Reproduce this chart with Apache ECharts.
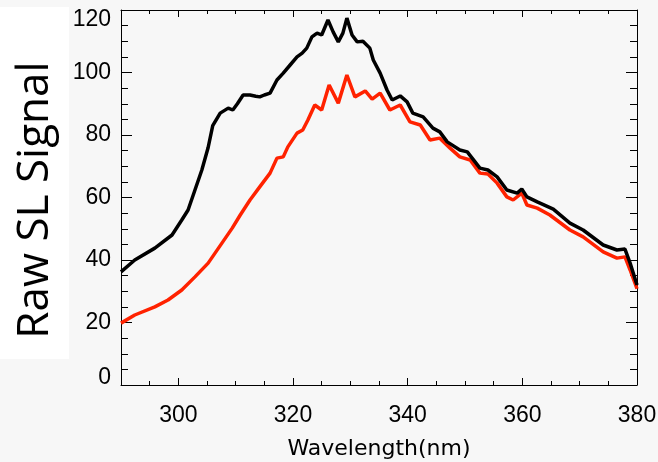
<!DOCTYPE html>
<html>
<head>
<meta charset="utf-8">
<script src="https://cdn.jsdelivr.net/npm/echarts@6/dist/echarts.min.js"></script>
<style>
html,body{margin:0;padding:0;background:#f7f7f7;}
#c{width:658px;height:462px;}
</style>
</head>
<body>
<div id="c"></div>
<script>
// Black curve (upper)
const blackWl = [290,292.4,295.9,298.9,300.6,301.7,302.9,304.1,305.2,306,307.3,308.7,309.5,310.3,311.3,312.5,313.5,314.2,315,316,317.2,318.3,319.5,320.7,321.6,322.4,323.3,324.2,325,326.1,327,327.9,328.7,329.4,330.3,331.2,332.2,333.4,334,335.2,336.4,337.3,338.7,339.9,340.9,342.7,344.4,345.6,346.9,349.1,350.4,352.6,354,355.6,357.3,359.1,359.9,360.8,362.6,365.4,368.3,370.6,374.1,376.5,377.9,378.8,380];
const blackVal = [36.2,40,43.8,48,52.8,56,62.4,68.8,76,83,87,88.6,88,90,92.8,92.8,92.4,92.2,92.8,93.4,97.6,99.8,102.4,105,106.2,107.8,111.4,112.6,112,116.8,113,109.8,112.6,117.4,112,109.8,110,107.8,104,99.8,94.4,91.2,92.5,90.6,87,85.8,82.2,81,77.8,75.2,74.6,69.4,68.8,66.6,62.4,61.4,62.7,60.2,58.6,56.3,51.8,49.6,44.8,43.2,43.5,39,32];
// Red curve (lower)
const redWl = [290,292.4,295.9,298.2,300.6,302.9,305.2,307.6,309.4,310.8,312.5,314.2,316,317.2,318.3,319.1,320.7,321.7,322.6,323.8,325,326.3,327.9,329.4,330.8,332.6,333.8,335.2,336.9,338.7,340.4,342.2,343.9,345.6,347.4,349.1,350.9,352.6,354,355.6,357.3,358.4,359.9,360.8,362.6,364.8,368.3,370.6,374.1,376.5,377.9,378.8,380];
const redVal = [19.8,22.4,25,27.2,30.4,34.6,39,45.4,50.2,54.4,59.2,63.4,67.8,72.6,73,76.2,80.6,81.6,84.8,89.6,88,96,90.2,99.2,92.2,94.1,91.5,93.4,88,89.6,84.2,83.2,78.4,79,75.8,73,72,67.8,67.5,64.6,60.2,59.2,61.4,57.6,56.6,54.4,49.6,47.4,42.6,40.6,41,36.8,30.8];
const xMajorTicks = [300,320,340,360,380];
const xTitle = 'Wavelength(nm)';
const yTitle = 'Raw SL Signal';

const pair = (xs, ys) => xs.map((x, i) => [x, ys[i]]);
const tickFont = {fontFamily:'Liberation Sans', fontSize:23, color:'#000'};
const lineAx = {show:true, lineStyle:{color:'#000', width:1}};

function xMinor(pos){
  return {type:'value', position:pos, min:290, max:380, interval:5,
    axisLine: lineAx, axisTick:{show:true, inside:true, length:4, lineStyle:{color:'#000'}},
    axisLabel:{show:false}, splitLine:{show:false}};
}
function xMajor(pos, labels){
  const ax = {type:'value', position:pos, min:290, max:380,
    axisLine:{show:false},
    axisTick:{show:true, inside:true, length:7, customValues:xMajorTicks, lineStyle:{color:'#000'}},
    axisLabel: labels ? Object.assign({show:true, margin:19, customValues:xMajorTicks}, tickFont) : {show:false},
    splitLine:{show:false}};
  if (labels) {
    ax.name = xTitle; ax.nameLocation = 'middle'; ax.nameGap = 53;
    ax.nameTextStyle = {fontFamily:'DejaVu Sans', fontSize:22, color:'#000'};
  }
  return ax;
}
function yAx(pos, labels){
  return {type:'value', position:pos, min:0, max:120, interval:20,
    axisLine: lineAx,
    axisTick:{show:true, inside:true, length:11, lineStyle:{color:'#000'}},
    minorTick:{show:true, splitNumber:4, length:7, lineStyle:{color:'#000'}},
    axisLabel: labels ? Object.assign({show:true, margin:10,
      formatter: v => v === 120 ? '{t|120}' : (v === 0 ? '{b|0}' : String(v)),
      rich:{t:Object.assign({padding:[20,0,0,0]}, tickFont), b:Object.assign({padding:[0,0,14,0]}, tickFont)}
    }, tickFont) : {show:false},
    splitLine:{show:false}};
}

const chart = echarts.init(document.getElementById('c'), null, {renderer:'canvas'});
chart.setOption({
  backgroundColor:'#f7f7f7',
  animation:false,
  grid:{left:121, right:21, top:10, bottom:77, containLabel:false, outerBoundsMode:'none'},
  xAxis:[xMajor('bottom', true), xMinor('bottom'), xMinor('top'), xMajor('top', false)],
  yAxis:[yAx('left', true), yAx('right', false)],
  graphic:[
    {type:'rect', left:0, top:7, shape:{width:69, height:352}, style:{fill:'#ffffff'}, z:-1},
    {type:'text', x:35, y:200, rotation:Math.PI/2,
     style:{text:yTitle, fontFamily:'Open Sans', fontSize:44, fill:'#000', align:'center', verticalAlign:'middle'}}
  ],
  series:[
    {type:'line', xAxisIndex:0, yAxisIndex:0, data:pair(redWl, redVal), showSymbol:false,
     lineStyle:{color:'#ff2200', width:3.5}, z:2},
    {type:'line', xAxisIndex:0, yAxisIndex:0, data:pair(blackWl, blackVal), showSymbol:false,
     lineStyle:{color:'#000000', width:3.5}, z:3}
  ]
});
</script>
</body>
</html>
